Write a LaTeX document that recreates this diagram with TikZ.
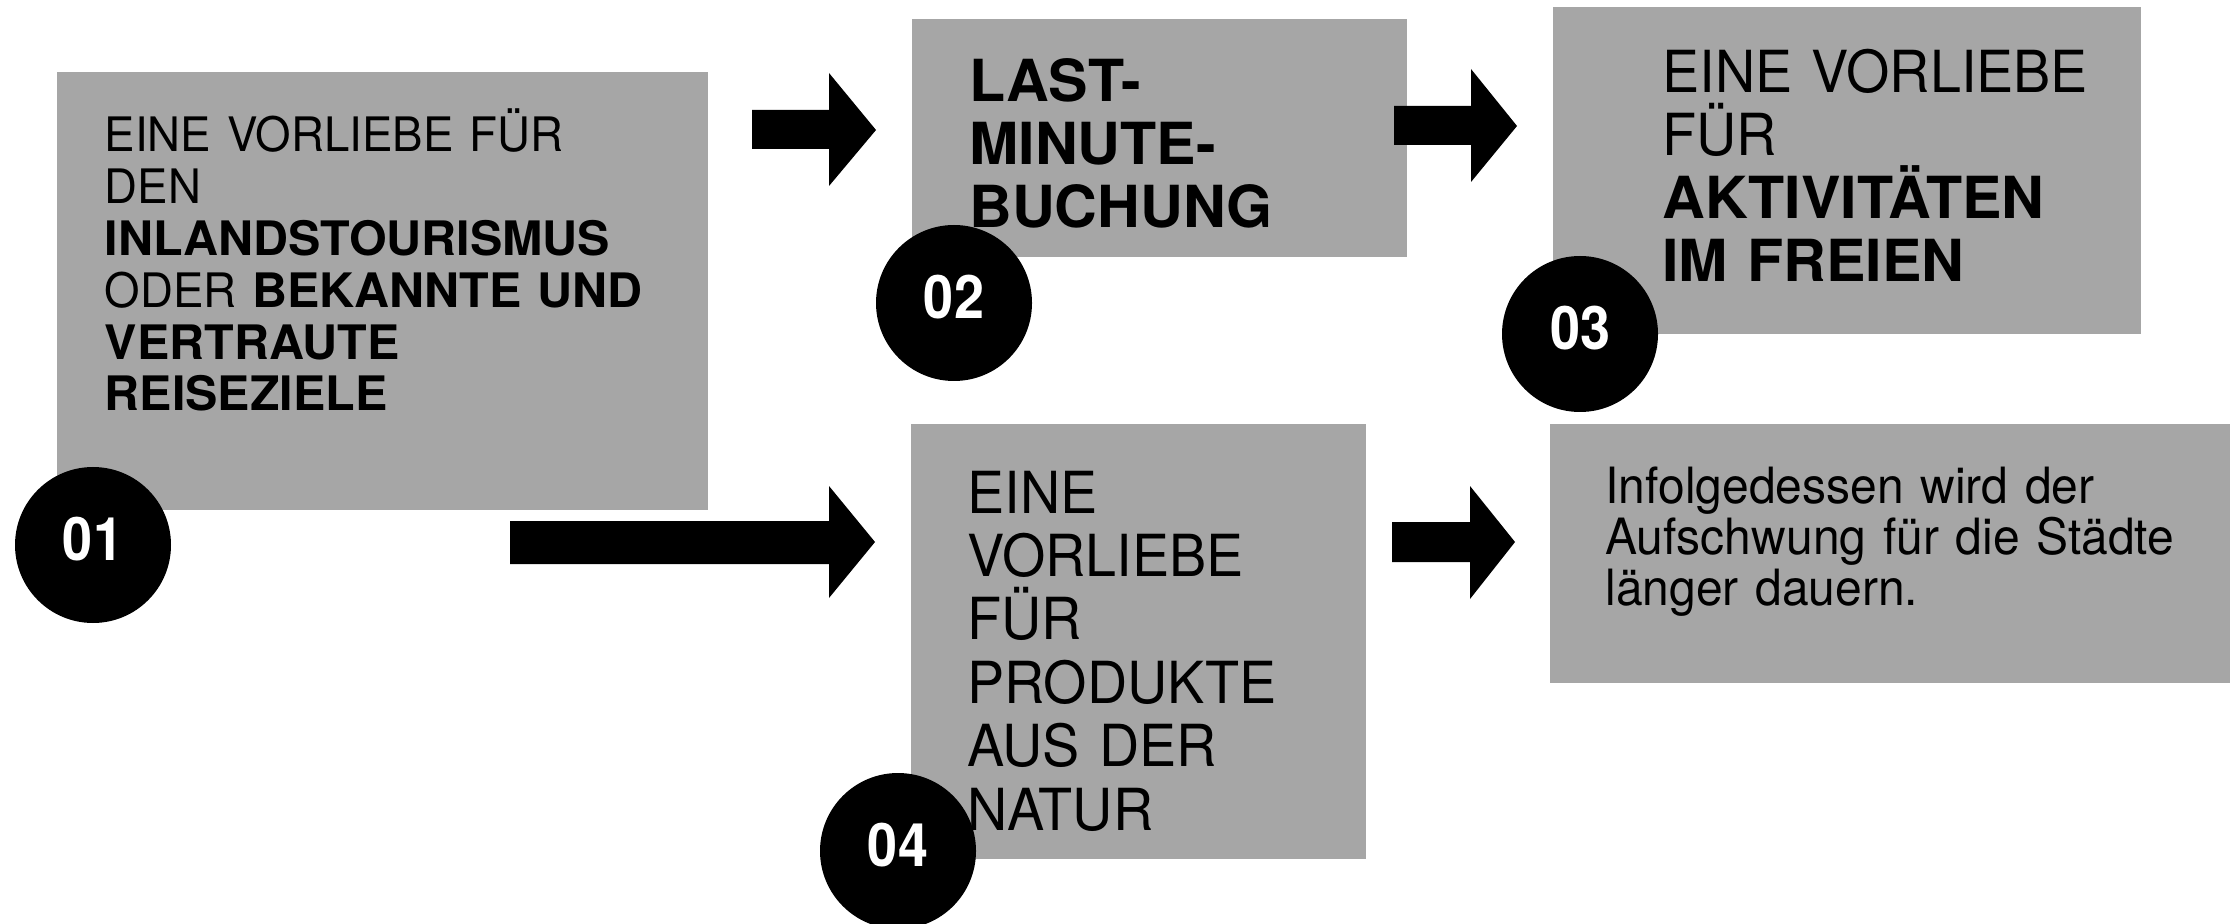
\documentclass[tikz,border=0pt]{standalone}
\usepackage{fontspec}
\setmainfont{TeX Gyre Heros}[UprightFeatures={FakeStretch=0.96},BoldFeatures={FakeStretch=1.02}]
\newfontfamily\numfont{TeX Gyre Heros}[FakeStretch=0.9]
\definecolor{boxgray}{RGB}{166,166,166}
\begin{document}
\begin{tikzpicture}[x=0.5pt,y=-0.5pt,
  box/.style={fill=boxgray},
  txt/.style={anchor=base west,inner sep=0pt,align=left,text width=400pt},
  circ/.style={circle,fill=black,minimum size=78pt,inner sep=0pt},
  num/.style={text=white,inner sep=0pt,font=\numfont\bfseries\fontsize{30}{32}\selectfont,yshift=3pt},
  blockarrow/.style={fill=black}]
\useasboundingbox (0,0) rectangle (2230,924);
\clip (0,0) rectangle (2230,924);
% boxes
\path[box] (57,72) rectangle (708,510);
\path[box] (912,19) rectangle (1407,257);
\path[box] (1553,7) rectangle (2141,334);
\path[box] (911,424) rectangle (1366,859);
\path[box] (1550,424) rectangle (2230,683);
% circles
\node[circ] (c1) at (93,545) {};
\node[circ] (c2) at (954,303) {};
\node[circ] (c3) at (1580,334) {};
\node[circ] (c4) at (898,851) {};
% texts
\node[txt,font=\fontsize{23.75}{25.9}\selectfont] (t1) at (104.5,152)
  {EINE VORLIEBE FÜR\\DEN\\\textbf{INLANDSTOURISMUS}\\ODER \textbf{BEKANNTE UND}\\\textbf{VERTRAUTE}\\\textbf{REISEZIELE}};
\node[txt,font=\bfseries\fontsize{29}{31.5}\selectfont] (t2) at (969,102)
  {LAST-\\MINUTE-\\BUCHUNG};
\node[txt,font=\fontsize{29}{31.5}\selectfont] (t3) at (1662,93)
  {EINE VORLIEBE\\FÜR\\\textbf{AKTIVITÄTEN}\\\textbf{IM FREIEN}};
\node[txt,font=\fontsize{29}{31.7}\selectfont] (t4) at (967,513)
  {EINE\\VORLIEBE\\FÜR\\PRODUKTE\\AUS DER\\NATUR};
\node[txt,font=\fontsize{25}{25.5}\selectfont] (t5) at (1605,503)
  {Infolgedessen wird der\\Aufschwung für die Städte\\länger dauern.};
% numbers
\node[num] (n1) at (c1) {01};
\node[num] (n2) at (c2) {02};
\node[num] (n3) at (c3) {03};
\node[num] (n4) at (c4) {04};
% block arrows
\fill[blockarrow] (752,110) -- (829,110) -- (829,73) -- (876,130) -- (829,186) -- (829,149) -- (752,149) -- cycle;
\fill[blockarrow] (1394,106) -- (1471,106) -- (1471,69) -- (1517,126) -- (1471,182) -- (1471,145) -- (1394,145) -- cycle;
\fill[blockarrow] (510,521) -- (829,521) -- (829,486) -- (875,542) -- (829,598) -- (829,564) -- (510,564) -- cycle;
\fill[blockarrow] (1392,522) -- (1470,522) -- (1470,486) -- (1515,542) -- (1470,599) -- (1470,562) -- (1392,562) -- cycle;
\end{tikzpicture}
\end{document}
